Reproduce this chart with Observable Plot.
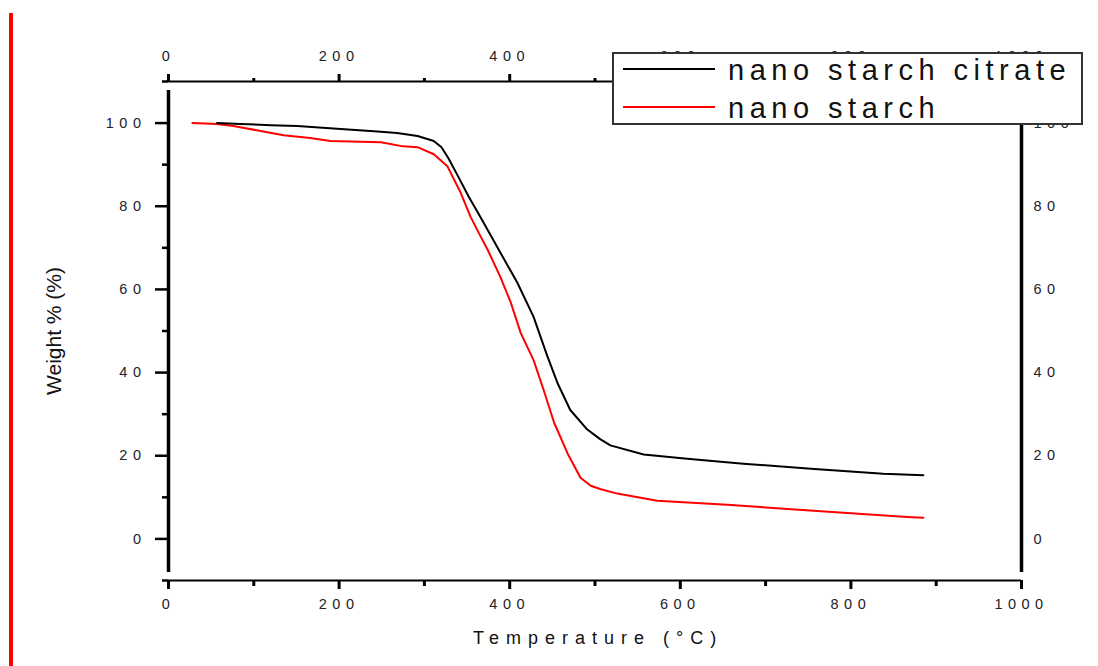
<!DOCTYPE html>
<html><head><meta charset="utf-8">
<script src="https://cdn.jsdelivr.net/npm/d3@7"></script>
<script src="https://cdn.jsdelivr.net/npm/@observablehq/plot@0.6"></script>
<style>
html,body{margin:0;padding:0;background:#fff;}
#wrap{position:relative;width:1098px;height:666px;overflow:hidden;font-family:"Liberation Sans",Arial,sans-serif;}
#wrap > svg.plot{display:block;position:absolute;left:0;top:0;}
#redbar{position:absolute;left:9px;top:13px;width:4px;height:653px;background:#ff0000;z-index:2;}
#legend{position:absolute;left:612px;top:52px;z-index:3;}
g[aria-label$="tick label"] text{letter-spacing:5.5px;fill:#22222a;}
</style></head>
<body><div id="wrap"><div id="redbar"></div></div>
<script>
// Series: nano starch citrate (black)
const citrateTemp   = [57, 84, 120, 151, 202, 245, 268, 292, 311, 320, 328, 340, 352, 366, 387, 409, 428, 444, 456, 471, 491, 506, 518, 557, 608, 674, 753, 838, 885];
const citrateWeight = [100, 99.8, 99.5, 99.3, 98.6, 98.0, 97.6, 96.9, 95.7, 94.2, 91.6, 87.0, 82.3, 77.3, 69.6, 61.6, 53.4, 44.0, 37.5, 31.0, 26.3, 24.0, 22.5, 20.3, 19.3, 18.1, 16.9, 15.7, 15.3];
// Series: nano starch (red)
const starchTemp   = [28, 57, 76, 108, 135, 166, 190, 249, 275, 292, 311, 327, 342, 354, 366, 374, 389, 401, 413, 428, 440, 452, 468, 483, 495, 506, 526, 573, 655, 756, 866, 885];
const starchWeight = [100, 99.8, 99.3, 98.1, 97.1, 96.4, 95.7, 95.4, 94.4, 94.2, 92.5, 89.6, 83.5, 77.5, 72.7, 69.6, 63.0, 57.0, 49.5, 43.0, 35.7, 28.0, 20.5, 14.7, 12.8, 12.0, 10.9, 9.2, 8.2, 6.8, 5.3, 5.1];

const seriesNames  = ["nano starch citrate", "nano starch"];
const seriesColors = ["#000000", "#ff0000"];

const xMajorTicks = [0, 200, 400, 600, 800, 1000];
const xMinorTicks = [100, 300, 500, 700, 900];
const yMajorTicks = [0, 20, 40, 60, 80, 100];
const yMinorTicks = [-10, 10, 30, 50, 70, 90, 110];

const xTitle = "Temperature (°C)";
const yTitle = "Weight % (%)";

const citrate = citrateTemp.map((t, i) => ({t, w: citrateWeight[i]}));
const starch  = starchTemp.map((t, i) => ({t, w: starchWeight[i]}));
const fmt = d => String(d);

const chart = Plot.plot({
  width: 1098, height: 666,
  marginLeft: 168, marginRight: 77, marginTop: 81, marginBottom: 86,
  style: {fontFamily: '"Liberation Sans", Arial, sans-serif', background: "#fff", color: "#000"},
  x: {domain: [0, 1000]},
  y: {domain: [-10, 110]},
  marks: [
    Plot.line(starch,  {x: "t", y: "w", stroke: seriesColors[1], strokeWidth: 2}),
    Plot.line(citrate, {x: "t", y: "w", stroke: seriesColors[0], strokeWidth: 2}),
    Plot.axisY({anchor: "left", ticks: yMajorTicks, tickSize: 13, tickPadding: 9, fontSize: 14.5, tickFormat: fmt, strokeWidth: 2.5, label: null}),
    Plot.axisY({anchor: "left", ticks: yMinorTicks, tickSize: 6, tickFormat: () => "", strokeWidth: 2.5, label: null}),
    Plot.axisY({anchor: "right", ticks: yMajorTicks, tickSize: 0, tickPadding: 12, fontSize: 14.5, tickFormat: fmt, label: null}),
    Plot.axisX({anchor: "bottom", ticks: xMajorTicks, tickSize: 9, tickPadding: 9, fontSize: 14.5, tickFormat: fmt, strokeWidth: 3, label: null}),
    Plot.axisX({anchor: "bottom", ticks: xMinorTicks, tickSize: 6, tickFormat: () => "", strokeWidth: 3, label: null}),
    Plot.axisX({anchor: "top", ticks: xMajorTicks, tickSize: 8, tickPadding: 13, fontSize: 14.5, tickFormat: fmt, strokeWidth: 3, label: null}),
    Plot.axisX({anchor: "top", ticks: xMinorTicks, tickSize: 4, tickFormat: () => "", strokeWidth: 3, label: null}),
    Plot.ruleY([-10], {strokeWidth: 2}),
    Plot.ruleY([110], {strokeWidth: 2}),
    Plot.ruleX([0],    {y1: -10, y2: 110, strokeWidth: 3.5, insetTop: -8, insetBottom: -9}),
    Plot.ruleX([1000], {y1: -10, y2: 110, strokeWidth: 3.5, insetTop: -8, insetBottom: -9}),
    Plot.text([yTitle], {text: d => d, frameAnchor: "left", textAnchor: "middle", lineAnchor: "middle", rotate: -90, dx: -114, fontSize: 21, fill: "#111"}),
    Plot.text([xTitle], {text: d => d, frameAnchor: "bottom", textAnchor: "middle", lineAnchor: "middle", dy: 58, dx: 3, fontSize: 18, fill: "#111"})
  ]
});
document.getElementById("wrap").appendChild(chart);
// spaced-out letters for the x-axis title, as in the reference
d3.select(chart).selectAll("text").filter(function() { return this.textContent === xTitle; })
  .style("letter-spacing", "7px");

// Legend box (overlay, built from the series arrays)
const leg = d3.select("#wrap").append("svg").attr("id", "legend").attr("width", 471).attr("height", 73);
leg.append("rect").attr("x", 1).attr("y", 1).attr("width", 469).attr("height", 71)
  .attr("fill", "#fff").attr("stroke", "#333").attr("stroke-width", 2);
seriesNames.forEach((name, i) => {
  const cy = 17 + i * 38;
  leg.append("line").attr("x1", 11).attr("x2", 103).attr("y1", cy).attr("y2", cy)
    .attr("stroke", seriesColors[i]).attr("stroke-width", 2);
  leg.append("text").attr("x", 116).attr("y", cy + 11)
    .attr("font-family", '"Liberation Sans", Arial, sans-serif')
    .attr("font-size", 29).attr("letter-spacing", "5.5px").attr("fill", "#111").text(name);
});
</script>
</body></html>
